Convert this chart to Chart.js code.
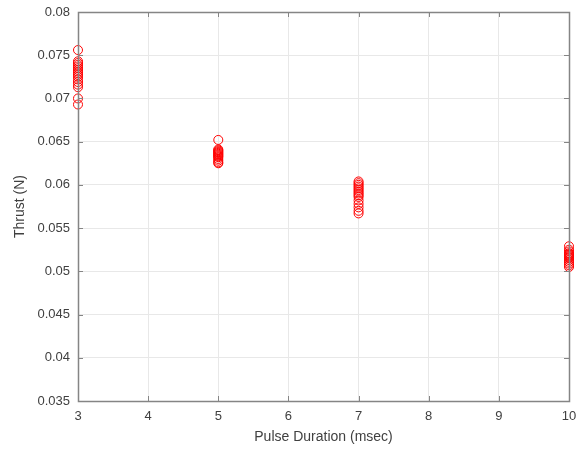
<!DOCTYPE html>
<html>
<head>
<meta charset="utf-8">
<script src="https://cdn.jsdelivr.net/npm/chart.js@4.4.1/dist/chart.umd.min.js"></script>
<style>
  html, body { margin: 0; padding: 0; background: #fff; }
  #wrap { width: 577px; height: 453px; }
</style>
</head>
<body>
<div id="wrap"><canvas id="thrust-chart" width="577" height="453"></canvas></div>
<script>
// pulse durations (msec) and measured thrust (N) for each
const pulse3 = [0.0756, 0.0743, 0.0741, 0.0739, 0.0737, 0.0735, 0.0733, 0.0731, 0.0729,
                0.0727, 0.0725, 0.0722, 0.0719, 0.0716, 0.0713, 0.0700, 0.0693];
const pulse5 = [0.0652, 0.0641, 0.0640, 0.0639, 0.0638, 0.0637, 0.0636, 0.0635, 0.0634,
                0.0633, 0.0632, 0.0630, 0.0628, 0.0626, 0.0625];
const pulse7 = [0.0604, 0.0602, 0.0600, 0.0598, 0.0596, 0.0594, 0.0592, 0.0590, 0.0588,
                0.0586, 0.0582, 0.0578, 0.0574, 0.0570, 0.0567];
const pulse10 = [0.0529, 0.0525, 0.0523, 0.0521, 0.0520, 0.0519, 0.0518, 0.0517, 0.0516,
                 0.0515, 0.0513, 0.0511, 0.0509, 0.0507, 0.0505];

const durations = [3, 5, 7, 10];
const thrustByDuration = [pulse3, pulse5, pulse7, pulse10];

const xTicks = [3, 4, 5, 6, 7, 8, 9, 10];
const yTicks = [0.035, 0.04, 0.045, 0.05, 0.055, 0.06, 0.065, 0.07, 0.075, 0.08];

const points = [];
durations.forEach((d, i) => {
    thrustByDuration[i].forEach(v => points.push({ x: d, y: v }));
});

const axisColor = '#858585';
const textColor = '#404040';

// box round the axes plus MATLAB-style inward tick marks
const axesBox = {
    id: 'axesBox',
    afterDatasetsDraw(chart) {
        const { ctx, chartArea: a, scales } = chart;
        ctx.save();
        ctx.strokeStyle = axisColor;
        ctx.lineWidth = 1;
        ctx.beginPath();
        xTicks.forEach(t => {
            const px = Math.round(scales.x.getPixelForValue(t)) + 0.5;
            ctx.moveTo(px, a.bottom); ctx.lineTo(px, a.bottom - 5);
            ctx.moveTo(px, a.top); ctx.lineTo(px, a.top + 5);
        });
        yTicks.forEach(t => {
            const py = Math.round(scales.y.getPixelForValue(t)) + 0.5;
            ctx.moveTo(a.left, py); ctx.lineTo(a.left + 5, py);
            ctx.moveTo(a.right, py); ctx.lineTo(a.right - 5, py);
        });
        ctx.stroke();
        ctx.lineWidth = 1.5;
        ctx.strokeRect(Math.round(a.left) + 0.5, Math.round(a.top) + 0.5,
                       Math.round(a.right - a.left), Math.round(a.bottom - a.top));
        ctx.restore();
    }
};

const fontFamily = '"Liberation Sans", Arial, sans-serif';

new Chart(document.getElementById('thrust-chart').getContext('2d'), {
    type: 'scatter',
    data: {
        datasets: [{
            label: 'Thrust',
            data: points,
            clip: false,
            pointStyle: 'circle',
            pointRadius: 4.5,
            pointBorderWidth: 1,
            pointBorderColor: '#ff0000',
            pointBackgroundColor: 'rgba(0,0,0,0)'
        }]
    },
    options: {
        responsive: false,
        animation: false,
        layout: { padding: { top: 12, right: 8, left: 0, bottom: 0 } },
        plugins: {
            legend: { display: false },
            tooltip: { enabled: false }
        },
        scales: {
            x: {
                type: 'linear',
                min: 3,
                max: 10,
                afterBuildTicks: s => { s.ticks = xTicks.map(v => ({ value: v })); },
                afterFit: s => { s.height = 52; s.paddingLeft = 0; s.paddingRight = 0; },
                grid: { color: '#e8e8e8', drawTicks: false },
                border: { display: false },
                ticks: { color: textColor, padding: 8, font: { family: fontFamily, size: 13 } },
                title: {
                    display: true,
                    text: 'Pulse Duration (msec)',
                    color: textColor,
                    padding: { top: 0, bottom: 7 },
                    font: { family: fontFamily, size: 14 }
                }
            },
            y: {
                type: 'linear',
                min: 0.035,
                max: 0.08,
                afterBuildTicks: s => { s.ticks = yTicks.map(v => ({ value: v })); },
                afterFit: s => { s.width = 78; s.paddingTop = 0; s.paddingBottom = 0; },
                grid: { color: '#e8e8e8', drawTicks: false },
                border: { display: false },
                ticks: {
                    color: textColor,
                    padding: 8,
                    font: { family: fontFamily, size: 13 },
                    callback: v => String(Number(v.toFixed(3)))
                },
                title: {
                    display: true,
                    text: 'Thrust (N)',
                    color: textColor,
                    padding: { top: 12, bottom: 0 },
                    font: { family: fontFamily, size: 14 }
                }
            }
        }
    },
    plugins: [axesBox]
});
</script>
</body>
</html>
